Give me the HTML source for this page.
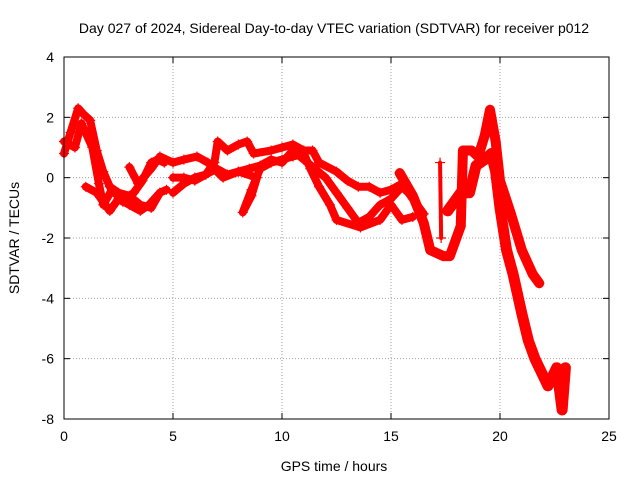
<!DOCTYPE html>
<html><head><meta charset="utf-8"><style>
body{margin:0;background:#fff}
svg{display:block;font-family:"Liberation Sans",sans-serif}
</style></head><body>
<svg id="chart" width="640" height="480">
<rect width="640" height="480" fill="#fff"/>
<text x="334" y="33" font-size="14" text-anchor="middle">Day 027 of 2024, Sidereal Day-to-day VTEC variation (SDTVAR) for receiver p012</text>
<text x="334" y="471" font-size="14" text-anchor="middle">GPS time / hours</text>
<text transform="translate(19,238) rotate(-90)" font-size="14" text-anchor="middle">SDTVAR / TECUs</text>
<g id="grid"></g><g id="ticks"></g><g id="series"></g>
<rect x="64" y="57" width="545" height="362" fill="none" stroke="#000"/>
</svg>
<script>
const xTicks=[0,5,10,15,20,25];
const yTicks=[4,2,0,-2,-4,-6,-8];
const s1=[[0,0.8],[0.3,1.5],[0.65,2.3],[0.9,2.1],[1.2,1.9],[1.5,0.9],[1.8,0.2],[2.1,-0.3],[2.5,-0.5],[3,-0.6],[3.5,-0.9],[4,-1.0],[4.4,-0.5]];
const s2=[[0,1.2],[0.5,1.0],[0.8,1.8],[1.3,1.0],[1.6,-0.2],[1.8,-0.9],[2.2,-0.4],[2.7,-0.8],[3.2,-0.5],[3.6,-0.1],[4,0.5],[4.3,0.6],[4.6,0.5]];
const s3=[[1,-0.3],[1.5,-0.5],[2.1,-1.1],[2.5,-0.7],[3,-0.9],[3.5,-1.1],[3.9,-0.9],[4.4,-0.5],[4.7,-0.4]];
const s4=[[3.0,0.35],[3.4,-0.2],[4.0,0.3],[4.4,0.7],[5,0.5],[5.5,0.6],[6.1,0.7],[6.6,0.5],[7.3,0.0],[8,0.2],[8.5,0.3],[9,0.4],[9.5,0.6],[10,0.5],[10.5,0.9],[11,0.6],[11.5,0.3],[12,0],[12.5,-0.5],[13,-1.0],[13.5,-1.5],[14,-1.3],[14.5,-0.9],[15,-0.7],[15.5,-0.3],[15.8,-0.5]];
const s5=[[5,-0.5],[5.5,-0.2],[6,0],[6.5,0.1],[6.9,0.5],[7.05,1.2],[7.5,0.9],[8,1.1],[8.4,1.2],[8.7,0.8],[9.5,0.9],[10,1.0],[10.5,1.1],[11,0.9],[11.4,0.9],[11.7,0.5],[12.5,0.2],[13,-0.1],[13.5,-0.3],[14,-0.3],[14.5,-0.5],[15,-0.4],[15.5,-0.2],[16,-0.7],[16.5,-1.2]];
const s6=[[5,0],[5.5,0],[6,-0.1],[6.5,0.1],[7,0.3],[7.5,0.1],[8,0.2],[8.85,0],[8.6,-0.6],[8.2,-1.15],[8.6,-0.4],[9,0.3],[9.5,0.5],[10,0.6],[10.5,0.7],[11,0.8],[11.3,0.3],[11.7,-0.3],[12.2,-0.9],[12.5,-1.4],[13.6,-1.65],[14.5,-1.4],[15,-0.9],[15.5,-1.4],[16,-1.3]];
const s7=[[15.4,0.15],[16,-0.6],[16.5,-1.5],[16.8,-2.4],[17.4,-2.6],[17.7,-2.6],[18.2,-1.6],[18.3,0.9],[18.7,0.9],[19,0.7],[19.3,1.4],[19.54,2.25],[19.8,1.2],[20,-0.1],[20.5,-1.2],[21,-2.4],[21.5,-3.2],[21.8,-3.5]];
const s8=[[17.25,0.5],[17.3,-2.0]];
const s9=[[17.6,-1.1],[18.2,-0.5],[18.6,-0.5],[18.9,0.4],[19.3,0.6],[19.6,0.8],[19.8,0.2],[20,-1.0],[20.3,-2.4],[20.6,-3.2],[21,-4.5],[21.3,-5.4],[21.6,-6.0],[21.8,-6.3],[22.2,-6.9],[22.6,-6.3],[22.85,-7.7],[23,-6.3]];
const widths=[8,8,8,8,8,8,10,4,11];
const allSeries=[s1,s2,s3,s4,s5,s6,s7,s8,s9];
const NS="http://www.w3.org/2000/svg";
const X0=64,X1=609,Y0=419,Y1=57;
const sx=v=>X0+(v-0)/(25-0)*(X1-X0);
const sy=v=>Y0-(v+8)/(12)*(Y0-Y1);
const grid=document.getElementById('grid'),ticks=document.getElementById('ticks'),ser=document.getElementById('series');
function mk(tag,attrs,parent){const e=document.createElementNS(NS,tag);for(const k in attrs)e.setAttribute(k,attrs[k]);parent.appendChild(e);return e;}
xTicks.forEach(t=>{
 const x=sx(t);
 if(t>0&&t<25){const g=mk('line',{x1:x,x2:x,y1:Y1,y2:Y0,stroke:'#a0a0a0','stroke-dasharray':'1,2'},grid);
 
 }
 mk('line',{x1:x,x2:x,y1:Y0,y2:Y0-6,stroke:'#000'},ticks);
 mk('line',{x1:x,x2:x,y1:Y1,y2:Y1+6,stroke:'#000'},ticks);
 const l=mk('text',{x:x,y:Y0+22,'font-size':14,'text-anchor':'middle'},ticks);l.textContent=t;
 
 
});
yTicks.forEach(t=>{
 const y=sy(t);
 if(t>-8&&t<4){const g=mk('line',{x1:X0,x2:X1,y1:y,y2:y,stroke:'#a0a0a0','stroke-dasharray':'1,2'},grid);
 
 }
 mk('line',{x1:X0,x2:X0+6,y1:y,y2:y,stroke:'#000'},ticks);
 mk('line',{x1:X1,x2:X1-6,y1:y,y2:y,stroke:'#000'},ticks);
 const l=mk('text',{x:X0-10,y:y+5,'font-size':14,'text-anchor':'end'},ticks);l.textContent=t;
 
 
});
allSeries.forEach((s,i)=>{
 const p=mk('polyline',{points:s.map(d=>sx(d[0])+','+sy(d[1])).join(' '),fill:'none',stroke:'#ff0000','stroke-width':widths[i],'stroke-linejoin':'round','stroke-linecap':'round'},ser);
 
 
 s.forEach(d=>{
  const m=mk('path',{d:`M${sx(d[0])-5},${sy(d[1])}h10M${sx(d[0])},${sy(d[1])-5}v10`,stroke:'#ff0000','stroke-width':1.2},ser);
  
  
 });
});
</script>
</body></html>
